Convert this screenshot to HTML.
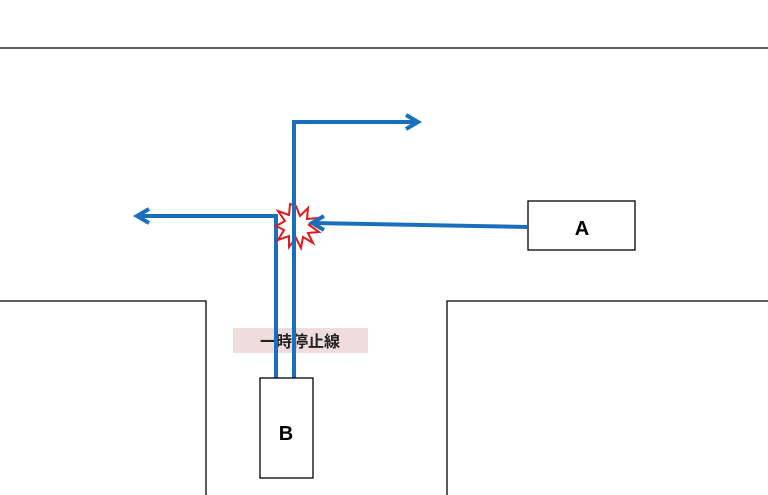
<!DOCTYPE html>
<html><head><meta charset="utf-8"><style>body{margin:0;background:#fff}svg{display:block}</style></head><body>
<svg width="768" height="495" viewBox="0 0 768 495" xmlns="http://www.w3.org/2000/svg">
<g fill="none" stroke="#000" stroke-width="1.3">
<line x1="0" y1="48" x2="768" y2="48"/>
<polyline points="0,301 206,301 206,495"/>
<polyline points="768,301 447,301 447,495"/>
</g>
<rect x="233" y="328" width="135" height="25" fill="#efdcdc"/>
<text x="300" y="347" font-family="Liberation Sans, 'Noto Sans CJK JP', sans-serif" font-size="16" font-weight="bold" text-anchor="middle" fill="#222">一時停止線</text>
<g stroke="#1a6fbd" stroke-width="4" fill="none">
<polyline points="276,378 276,216 137,216"/>
<path d="M149,209 L137,216 L149,223"/>
<polyline points="294,378 294,122 418,122"/>
<path d="M406,115 L418,122 L406,129"/>
</g>
<polygon points="296,206 300,216 308,208 307,219 318,218 309,225 319,232 308,233 313,243 303,237 301,248 296,238 289,247 289,236 278,240 284,230 276,226 285,221 278,211 289,215 290,204"
 fill="#fff" stroke="#e01b1b" stroke-width="2"/>
<g stroke="#1a6fbd" stroke-width="4" fill="none">
<line x1="294" y1="204" x2="294" y2="250"/>
<line x1="527" y1="227" x2="312" y2="223"/>
<path d="M324,216 L312,223 L324,230"/>
</g>
<rect x="528" y="201" width="107" height="49" fill="#fff" stroke="#000" stroke-width="1.3"/>
<text x="582" y="235" font-family="Liberation Sans, sans-serif" font-size="20" font-weight="bold" text-anchor="middle">A</text>
<rect x="260" y="378" width="53" height="100" fill="#fff" stroke="#000" stroke-width="1.3"/>
<text x="286" y="440" font-family="Liberation Sans, sans-serif" font-size="20" font-weight="bold" text-anchor="middle">B</text>
</svg>
</body></html>
